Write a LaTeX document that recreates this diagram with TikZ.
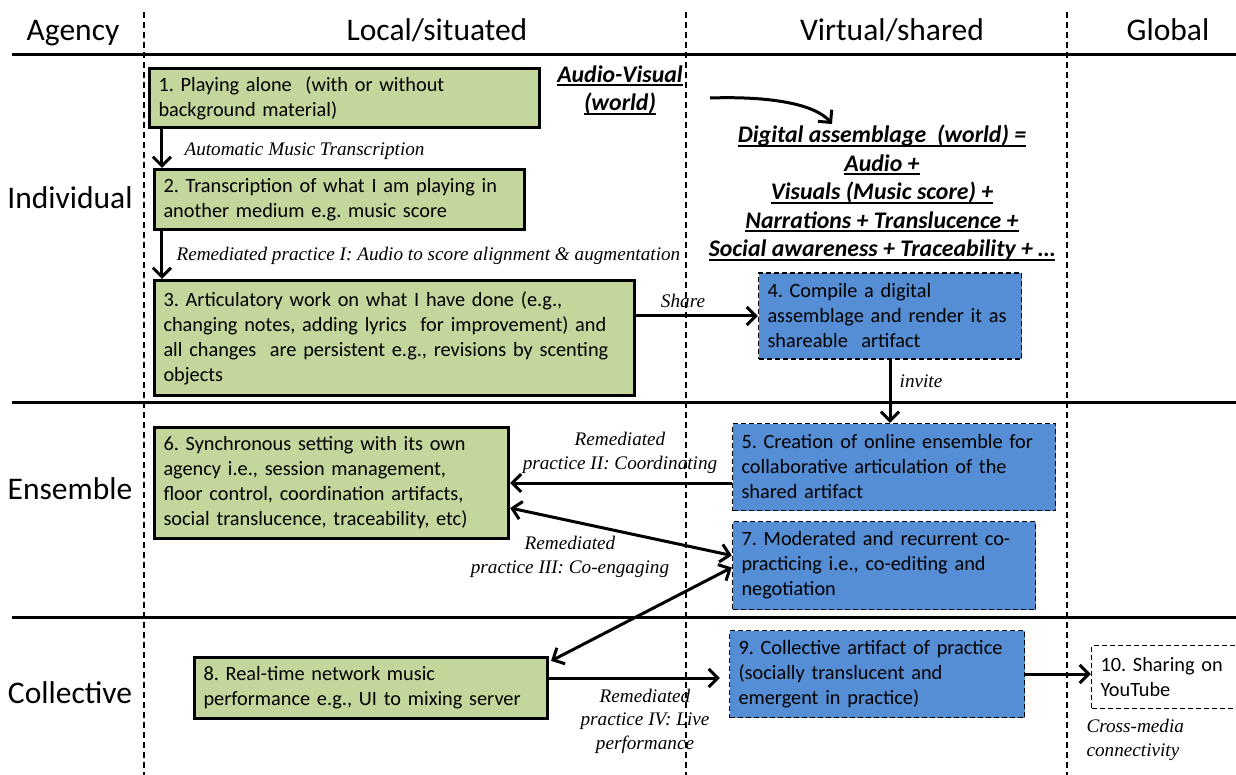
\documentclass[tikz,border=0pt]{standalone}
\usepackage{fontspec}
\setmainfont{Carlito}
\newfontfamily\lblserif{Liberation Serif}
\usetikzlibrary{arrows.meta}
\definecolor{boxgreen}{HTML}{C3D69B}
\definecolor{boxblue}{HTML}{558ED5}
\newcommand\undl[1]{\setbox0=\hbox{#1}\rlap{\rule[-4pt]{\wd0}{2pt}}\box0}
\frenchspacing

\begin{document}
\begin{tikzpicture}[x=1pt, y=-1pt,
  greenbox/.style={draw, line width=3.2pt, fill=boxgreen, inner xsep=9pt, align=left, font=\fontsize{20.3}{25}\selectfont},
  bluebox/.style={draw, line width=1.4pt, dash pattern=on 5pt off 3pt, fill=boxblue, inner xsep=9pt, align=left, font=\fontsize{20.3}{25}\selectfont},
  webbox/.style={bluebox, fill=white},
  header/.style={anchor=base, font=\fontsize{31.5}{34}\selectfont},
  rowlabel/.style={anchor=base, font=\fontsize{31.5}{34}\selectfont},
  world/.style={align=center, font=\fontsize{23.8}{28.5}\selectfont\bfseries\itshape},
  remark/.style={font=\fontsize{19.2}{23.5}\selectfont\lblserif\itshape},
  arr/.style={-{Straight Barb[length=9pt,width=18pt]}, line width=3pt},
  darr/.style={{Straight Barb[length=9pt,width=18pt]}-{Straight Barb[length=9pt,width=18pt]}, line width=3pt},
  lane/.style={line width=1.2pt, dash pattern=on 6pt off 4pt},
  rule/.style={line width=3pt}]
\useasboundingbox (0,0) rectangle (1236,775);

% Grid
\draw[lane] (144,12) -- (144,775);
\draw[lane] (686,12) -- (686,775);
\draw[lane] (1067,12) -- (1067,775);
\draw[rule] (12,55) -- (1236,55);
\draw[rule] (12,402) -- (1236,402);
\draw[rule] (12,617) -- (1236,617);

% Headers
\node[header] (hagency) at (73,41) {Agency};
\node[header] (hlocal) at (437,41) {Local/situated};
\node[header] (hvirtual) at (892,41) {Virtual/shared};
\node[header] (hglobal) at (1168,41) {Global};

\node[rowlabel] (rind) at (70,209) {Individual};
\node[rowlabel] (rens) at (70,499) {Ensemble};
\node[rowlabel] (rcol) at (70,703) {Collective};

% Practices
\node[greenbox, text width=372pt, minimum height=59pt] (b1) at (344.5,98)
  {1. Playing alone~ (with or without\\ background material)};
\node[greenbox, text width=352pt, minimum height=60pt] (b2) at (339.5,199.5)
  {2. Transcription of what I am playing in\\ another medium e.g. music score};
\node[greenbox, text width=462pt, minimum height=115pt] (b3) at (394.5,338)
  {3. Articulatory work on what I have done (e.g.,\\ changing notes, adding lyrics~ for improvement) and\\ all changes~ are persistent e.g., revisions by scenting\\ objects};
\node[bluebox, text width=245pt, minimum height=86pt] (b4) at (890,316)
  {4. Compile a digital\\ assemblage and render it as\\ shareable~ artifact};
\node[bluebox, text width=305pt, minimum height=87pt] (b5) at (894,467)
  {5. Creation of online ensemble for\\ collaborative articulation of the\\ shared artifact};
\node[greenbox, text width=336pt, minimum height=111pt] (b6) at (331.5,483)
  {6. Synchronous setting with its own\\ agency i.e., session management,\\ floor control, coordination artifacts,\\ social translucence, traceability, etc)};
\node[bluebox, text width=285pt, minimum height=88pt] (b7) at (884,565.5)
  {7. Moderated and recurrent co-\\ practicing i.e., co-editing and\\ negotiation};
\node[greenbox, text width=335pt, minimum height=61pt] (b8) at (371,688)
  {8. Real-time network music\\ performance e.g., UI to mixing server};
\node[bluebox, text width=277pt, minimum height=87pt] (b9) at (877,674)
  {9. Collective artifact of practice\\ (socially translucent and\\ emergent in practice)};
\node[webbox, text width=150pt, minimum height=63pt] (b10) at (1175.5,677)
  {10. Sharing on\\ YouTube};

% Worlds
\node[world] (av) at (620,90) {\undl{Audio-Visual}\\ \undl{(world)}};
\node[world] (dig) at (882,193) {\undl{Digital assemblage~ (world) =}\\ \undl{Audio +}\\
  \undl{Visuals (Music score) +}\\ \undl{Narrations + Translucence +}\\
  \undl{Social awareness + Traceability + \dots}};
\coordinate (avtail) at (710,98);
\coordinate (dighead) at (832,124);
\draw[arr] (avtail) .. controls (770,96) and (815,104) .. (dighead);

% Connectors
\draw[arr] ([xshift=14pt]b1.south west) -- ([xshift=9pt]b2.north west);
\draw[arr] ([xshift=9pt]b2.south west) -- ([xshift=9pt]b3.north west);
\draw[arr] ([yshift=22pt]b3.east) -- (b4.west);
\draw[arr] (b4.south) -- (b4.south |- b5.north);
\draw[arr] (b5.west |- b6.east) -- (b6.east);
\draw[darr] ([yshift=-25pt]b6.east) -- ([yshift=10pt]b7.west);
\draw[darr] ([yshift=-2pt]b7.west) -- ([xshift=2pt,yshift=-5pt]b8.north east);
\draw[arr, shorten >=9pt] ([yshift=10pt]b8.east) -- ([yshift=10pt]b8.east -| b9.west);
\draw[arr] (b9.east) -- (b9.east -| b10.west);

% Remarks
\node[remark, anchor=west] (lamt) at (181,151) {Automatic Music Transcription};
\node[remark, anchor=west] (lrp1) at (173,256) {Remediated practice I: Audio to score alignment \& augmentation};
\node[remark] (lshare) at (683,301) {Share};
\node[remark] (linvite) at (921,381) {invite};
\node[remark, align=center] (lrp2) at (620,453) {Remediated\\ practice II: Coordinating};
\node[remark, align=center] (lrp3) at (570,557) {Remediated\\ practice III: Co-engaging};
\node[remark, align=center] (lrp4) at (645,721) {Remediated\\ practice IV: Live\\ performance};
\node[remark, align=left, anchor=west] (lcross) at (1083,740) {Cross-media\\ connectivity};
\end{tikzpicture}
\end{document}
